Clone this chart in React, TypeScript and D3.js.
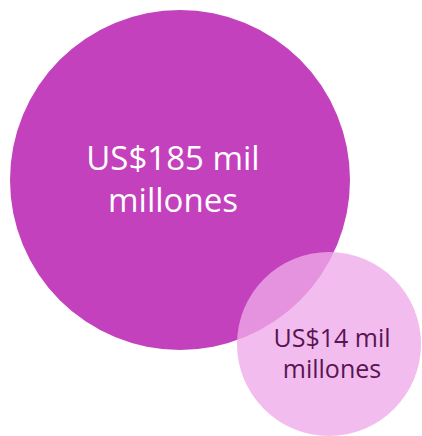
import React from "react";
import * as d3 from "d3";

const labels = ["US$185 mil millones", "US$14 mil millones"];
const lines = [["US$185 mil", "millones"], ["US$14 mil", "millones"]];
const values = [185, 14];
const xs = [180, 329];
const ys = [180, 344];

const W = 422;
const H = 436;

export default function App() {
  const r = d3.scaleLinear().domain([14, 185]).range([92, 170]);
  const fills = ["#C341BC", "rgb(238,171,233)"];
  const opac = [1, 0.78];
  const textFill = ["#ffffff", "#5A1454"];
  const fontSize = [33, 25];
  const lineH = [42, 31];
  const dx = [-7, 3];
  const dy = [-10, 3];
  return (
    <svg width={W} height={H} style={{ position: "absolute", left: 0, top: 0 }}>
      {values.map((v, i) => (
        <circle key={"c" + i} cx={xs[i]} cy={ys[i]} r={r(v)} fill={fills[i]} fillOpacity={opac[i]} />
      ))}
      {values.map((v, i) => (
        <text
          key={"t" + i}
          x={xs[i] + dx[i]}
          y={ys[i] + dy[i]}
          textAnchor="middle"
          fontFamily="'Open Sans', sans-serif"
          fontSize={fontSize[i]}
          fill={textFill[i]}
          aria-label={labels[i]}
        >
          {lines[i].map((l, j) => (
            <tspan key={j} x={xs[i] + dx[i]} dy={j === 0 ? 0 : lineH[i]}>
              {l}
            </tspan>
          ))}
        </text>
      ))}
    </svg>
  );
}
